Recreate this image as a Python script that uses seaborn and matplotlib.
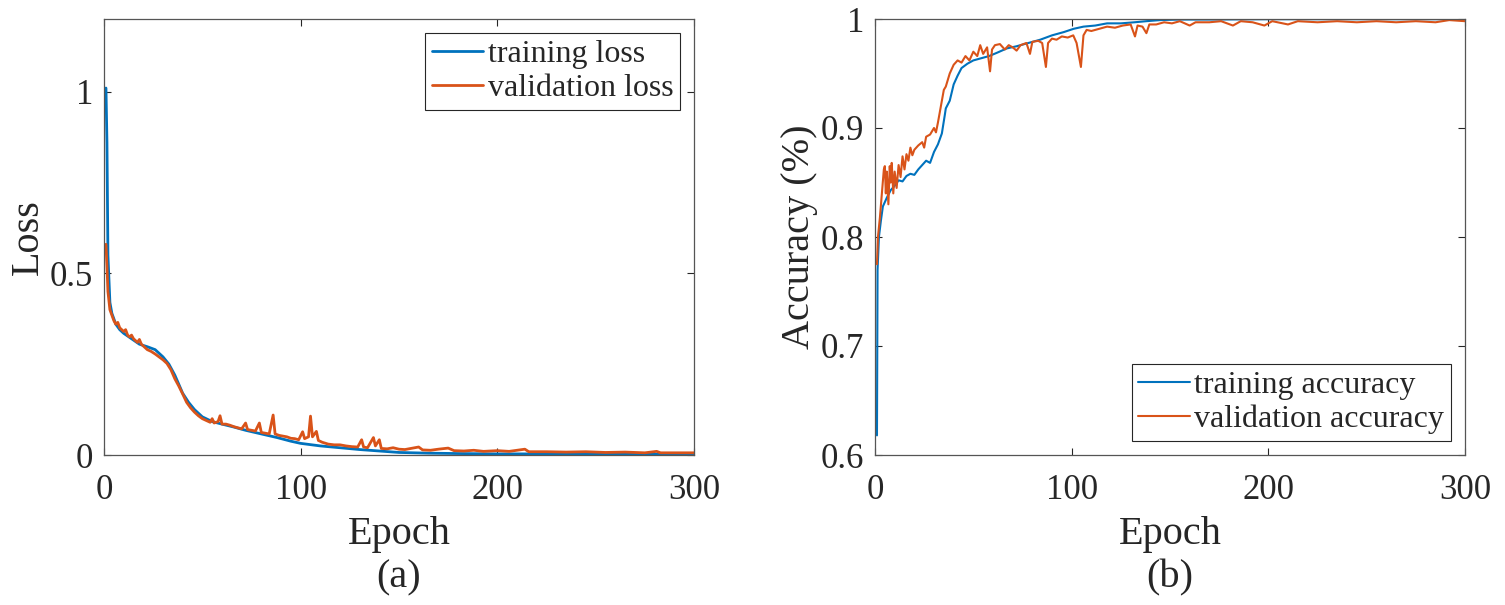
import seaborn as sns
import matplotlib.pyplot as plt
import pandas as pd

sns.set_style("ticks")
plt.rcParams['font.family'] = ['Liberation Serif', 'DejaVu Serif']

# ---- (a) loss curves ----
train_loss_ep = [1, 1.5, 2, 3, 4, 6, 8, 10, 14, 18, 22, 26, 30, 33, 36, 38, 40, 43, 46, 50,
                 55, 60, 66, 72, 80, 88, 95, 100, 110, 120, 130, 140, 150, 165, 180, 200,
                 230, 260, 300]
train_loss = [1.01, 0.86, 0.55, 0.42, 0.39, 0.36, 0.345, 0.335, 0.32, 0.305, 0.298, 0.29,
              0.27, 0.25, 0.22, 0.195, 0.17, 0.145, 0.125, 0.105, 0.092, 0.085, 0.077,
              0.068, 0.058, 0.048, 0.038, 0.032, 0.025, 0.02, 0.015, 0.011, 0.007, 0.005,
              0.004, 0.003, 0.003, 0.002, 0.002]

val_loss_ep = [1, 1.5, 2, 3, 4, 5, 6, 7, 8, 9, 10, 11, 12, 13, 14, 15, 16, 17, 18, 19, 20,
               22, 24, 26, 28, 30, 32, 34, 36, 38, 40, 42, 44, 46, 48, 50, 52, 54, 55, 56,
               58, 59, 60, 62, 64, 66, 68, 70, 72, 73, 75, 77, 79, 80, 82, 84, 86, 87, 89,
               91, 93, 95, 97, 99, 101, 102, 104, 105, 106, 108, 109, 111, 114, 117, 120,
               123, 126, 129, 131, 132, 134, 137, 138, 140, 141, 144, 147, 150, 153, 156,
               160, 162, 166, 170, 175, 178, 183, 188, 193, 200, 206, 214, 216, 225, 235,
               245, 255, 265, 275, 281, 283, 290, 300]
val_loss = [0.58, 0.52, 0.45, 0.40, 0.385, 0.37, 0.36, 0.365, 0.35, 0.345, 0.34, 0.345,
            0.33, 0.325, 0.33, 0.32, 0.315, 0.31, 0.318, 0.305, 0.30, 0.29, 0.285, 0.278,
            0.27, 0.262, 0.252, 0.235, 0.21, 0.19, 0.168, 0.145, 0.13, 0.118, 0.108, 0.10,
            0.095, 0.09, 0.10, 0.088, 0.092, 0.108, 0.085, 0.085, 0.082, 0.078, 0.075,
            0.072, 0.088, 0.07, 0.068, 0.066, 0.088, 0.062, 0.06, 0.058, 0.11, 0.058,
            0.054, 0.052, 0.05, 0.046, 0.045, 0.042, 0.064, 0.045, 0.05, 0.107, 0.05,
            0.065, 0.04, 0.035, 0.03, 0.028, 0.028, 0.025, 0.023, 0.022, 0.042, 0.022,
            0.02, 0.048, 0.025, 0.042, 0.018, 0.017, 0.02, 0.016, 0.015, 0.018, 0.022,
            0.014, 0.013, 0.016, 0.019, 0.012, 0.011, 0.013, 0.01, 0.012, 0.01, 0.016,
            0.009, 0.009, 0.008, 0.009, 0.007, 0.008, 0.006, 0.01, 0.006, 0.006, 0.006]

# ---- (b) accuracy curves ----
train_acc_ep = [1, 1.3, 2, 3, 4, 6, 8, 10, 12, 14, 16, 18, 20, 22, 24, 26, 28, 30, 32, 34,
                35.5, 36, 38, 40, 42, 44, 47, 50, 54, 58, 62, 67, 72, 78, 84, 90, 96, 101,
                106, 112, 118, 125, 132, 138, 145, 155, 170, 200, 250, 300]
train_acc = [0.618, 0.77, 0.80, 0.815, 0.828, 0.836, 0.843, 0.847, 0.852, 0.851, 0.856,
             0.858, 0.857, 0.862, 0.866, 0.87, 0.868, 0.878, 0.885, 0.895, 0.912, 0.918,
             0.925, 0.94, 0.948, 0.955, 0.959, 0.962, 0.964, 0.966, 0.969, 0.973, 0.975,
             0.978, 0.981, 0.985, 0.988, 0.991, 0.993, 0.994, 0.996, 0.996, 0.997, 0.998,
             0.999, 0.9995, 0.9995, 0.9998, 0.9998, 0.9998]

val_acc_ep = [1, 1.5, 2.5, 3.5, 4.5, 5, 5.5, 6, 6.8, 7.5, 8, 8.5, 9.3, 10, 11, 12, 13, 14,
              15, 16, 17, 18, 19, 20, 22, 24, 25, 26, 28, 30, 31, 32, 33, 34, 35, 36, 38,
              40, 42, 44, 46, 48, 50, 52, 53.5, 55, 57, 58.5, 59.5, 61, 63.5, 66, 68, 70,
              72, 74, 77, 78.8, 80, 83, 85, 86.9, 88, 90, 92.3, 95, 98, 100.8, 102.5,
              104.7, 106, 107.6, 110, 114, 118, 122, 126, 130, 132.2, 133.5, 136, 138,
              139.5, 143, 147, 151, 155, 160, 163, 170, 176, 182, 186, 192, 198, 202, 210,
              215, 225, 235, 245, 255, 265, 275, 285, 292, 300]
val_acc = [0.775, 0.80, 0.818, 0.84, 0.862, 0.865, 0.84, 0.86, 0.83, 0.865, 0.85, 0.868,
           0.84, 0.86, 0.845, 0.866, 0.855, 0.874, 0.862, 0.876, 0.87, 0.882, 0.875, 0.88,
           0.884, 0.887, 0.882, 0.892, 0.894, 0.9, 0.896, 0.905, 0.915, 0.925, 0.935, 0.938,
           0.95, 0.958, 0.962, 0.96, 0.966, 0.962, 0.97, 0.966, 0.976, 0.968, 0.974, 0.952,
           0.972, 0.976, 0.977, 0.972, 0.976, 0.974, 0.971, 0.976, 0.978, 0.968, 0.979,
           0.98, 0.978, 0.956, 0.978, 0.982, 0.981, 0.984, 0.983, 0.985, 0.978, 0.956,
           0.985, 0.99, 0.989, 0.991, 0.993, 0.992, 0.994, 0.995, 0.984, 0.994, 0.993,
           0.987, 0.995, 0.995, 0.997, 0.996, 0.998, 0.994, 0.997, 0.997, 0.998, 0.994,
           0.998, 0.997, 0.994, 0.998, 0.995, 0.998, 0.997, 0.998, 0.997, 0.998, 0.997,
           0.998, 0.997, 0.999, 0.998]

x_ticks = [0, 100, 200, 300]
loss_yticks = [0, 0.5, 1]
loss_ylabels = ['0', '0.5', '1']
acc_yticks = [0.6, 0.7, 0.8, 0.9, 1.0]
acc_ylabels = ['0.6', '0.7', '0.8', '0.9', '1']

df_loss = pd.concat([
    pd.DataFrame({'Epoch': train_loss_ep, 'value': train_loss, 'curve': 'training loss'}),
    pd.DataFrame({'Epoch': val_loss_ep, 'value': val_loss, 'curve': 'validation loss'}),
])
df_acc = pd.concat([
    pd.DataFrame({'Epoch': train_acc_ep, 'value': train_acc, 'curve': 'training accuracy'}),
    pd.DataFrame({'Epoch': val_acc_ep, 'value': val_acc, 'curve': 'validation accuracy'}),
])

palette = ['#0072BD', '#D95319']

fig = plt.figure(figsize=(15.05, 6.05), dpi=100)
ax1 = fig.add_axes([104 / 1505, 1 - 455 / 605, 590 / 1505, 436 / 605])
ax2 = fig.add_axes([875 / 1505, 1 - 455 / 605, 590 / 1505, 436 / 605])

sns.lineplot(data=df_loss, x='Epoch', y='value', hue='curve', palette=palette,
             estimator=None, linewidth=2.0, ax=ax1)
sns.lineplot(data=df_acc, x='Epoch', y='value', hue='curve', palette=palette,
             estimator=None, linewidth=1.5, ax=ax2)

ax1.set_ylim(0, 1.2)
ax1.set_yticks(loss_yticks, loss_ylabels)
ax1.set_ylabel('Loss', fontsize=29, labelpad=2)
ax2.set_ylim(0.6, 1.0)
ax2.set_yticks(acc_yticks, acc_ylabels)
ax2.set_ylabel('Accuracy (%)', fontsize=29, labelpad=2)

for ax in (ax1, ax2):
    ax.set_xlim(0, 300)
    ax.set_xticks(x_ticks)
    ax.set_xlabel('Epoch', fontsize=29, labelpad=6)
    ax.tick_params(direction='in', length=5, width=0.8, labelsize=25,
                   top=True, right=True, colors='#262626')
    ax.tick_params(axis='x', pad=14)
    ax.tick_params(axis='y', pad=8)
    for s in ax.spines.values():
        s.set_color('#555555')
        s.set_linewidth(0.9)

leg1 = ax1.legend(loc='upper right', fontsize=23, frameon=True, fancybox=False,
                  framealpha=1, edgecolor='#262626', handlelength=1.6,
                  handletextpad=0.15, borderpad=0.2, labelspacing=0.15,
                  borderaxespad=0.45)
leg2 = ax2.legend(loc='lower right', fontsize=23, frameon=True, fancybox=False,
                  framealpha=1, edgecolor='#262626', handlelength=1.6,
                  handletextpad=0.15, borderpad=0.2, labelspacing=0.15,
                  borderaxespad=0.45)
for leg in (leg1, leg2):
    leg.get_frame().set_linewidth(0.8)

fig.text(399 / 1505, 1 - 578 / 605, '(a)', fontsize=29, ha='center', va='center')
fig.text(1170 / 1505, 1 - 578 / 605, '(b)', fontsize=29, ha='center', va='center')

fig.savefig('out.png', dpi=100)
